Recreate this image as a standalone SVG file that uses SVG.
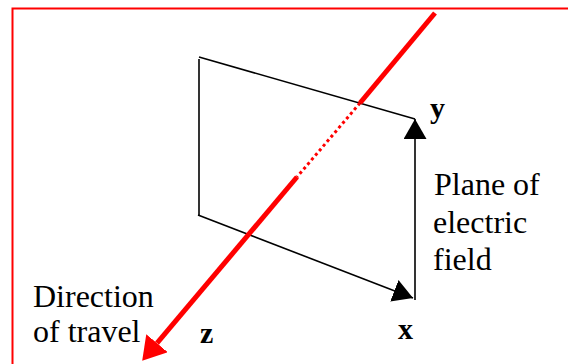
<svg xmlns="http://www.w3.org/2000/svg" width="568" height="364" viewBox="0 0 568 364">
  <defs>
    <style>
      .blk { stroke: #000; stroke-width: 1.6; fill: none; }
      .red { stroke: #ff0000; fill: none; }
      .lbl { font-size: 32px; fill: #000; }
      .ax { font-size: 30px; font-weight: bold; fill: #000; }
    </style>
    <marker id="blackHead" markerUnits="userSpaceOnUse" viewBox="0 0 20 23" markerWidth="20" markerHeight="23" refX="20" refY="11.5" orient="auto">
      <path d="M0,0 L20,11.5 L0,23 z" fill="#000"/>
    </marker>
    <marker id="redHead" markerUnits="userSpaceOnUse" viewBox="0 0 23 28" markerWidth="23" markerHeight="28" refX="0" refY="14" orient="auto">
      <path d="M0,0 L23,14 L0,28 z" fill="#ff0000"/>
    </marker>
  </defs>
  <rect id="frame" x="12.5" y="8.5" width="600" height="400" fill="none" stroke="#ff0000" stroke-width="2"/>
  <g id="connectors">
    <g id="plane">
      <line class="blk" x1="199" y1="57" x2="415" y2="119"/>
      <line class="blk" x1="199" y1="59" x2="199" y2="215"/>
      <line class="blk" x1="198" y1="215" x2="413" y2="298" marker-end="url(#blackHead)"/>
      <line class="blk" x1="415" y1="300" x2="415" y2="119" marker-end="url(#blackHead)"/>
    </g>
    <g id="wave">
      <line class="red" stroke-width="5" x1="435" y1="13" x2="360" y2="103"/>
      <line class="red" stroke-width="3" stroke-dasharray="3,3" x1="360" y1="103" x2="297" y2="177"/>
      <line class="red" stroke-width="5" x1="297" y1="177" x2="157" y2="343.2" marker-end="url(#redHead)"/>
    </g>
  </g>
  <g font-family="'Liberation Serif', 'Times New Roman', Times, serif">
    <g id="axis-y"><text class="ax" x="430" y="118">y</text></g>
    <g id="axis-x"><text class="ax" x="398" y="339">x</text></g>
    <g id="axis-z"><text class="ax" x="200" y="343">z</text></g>
    <g id="plane-label">
      <text class="lbl" x="434" y="195">Plane of</text>
      <text class="lbl" x="433" y="232.5">electric</text>
      <text class="lbl" x="433" y="270">field</text>
    </g>
    <g id="travel-label">
      <text class="lbl" x="33" y="307">Direction</text>
      <text class="lbl" x="33" y="342">of travel</text>
    </g>
  </g>
</svg>
